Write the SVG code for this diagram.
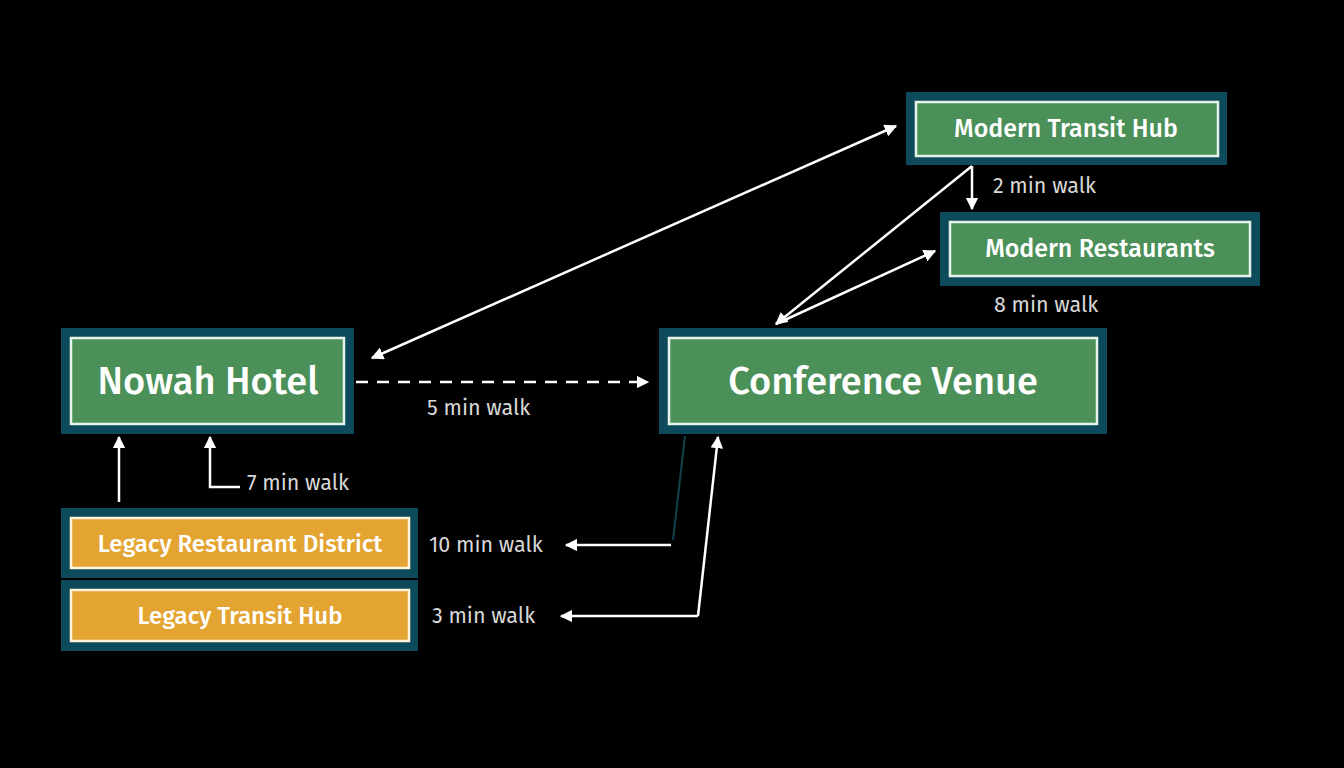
<svg xmlns="http://www.w3.org/2000/svg" width="1344" height="768" viewBox="0 0 1344 768">
<defs>
<marker id="ah" viewBox="0 0 10 10" refX="9" refY="5" markerWidth="5" markerHeight="5" orient="auto-start-reverse"><path d="M0,0 L10,5 L0,10 z" fill="#fff"/></marker>
<style>
.outer{fill:#0d4a5c}
.g{fill:#4a9058;stroke:#e8f4ea;stroke-width:2.5}
.o{fill:#e3a432;stroke:#fff3dc;stroke-width:2.5}
text{font-family:"Fira Sans","Noto Sans","Liberation Sans",sans-serif;fill:#fff;text-anchor:middle;dominant-baseline:central;font-weight:500}
.lbl{fill:#d8d8d8;font-size:21.5px;text-anchor:start;font-weight:400}
.c{stroke:#fff;stroke-width:2.5;fill:none}
</style>
</defs>
<rect width="1344" height="768" fill="#000"/>
<g id="connectors">
<path class="c" d="M356,382 H648" stroke-dasharray="12,9" marker-end="url(#ah)"/>
<path class="c" d="M372,358 L896,126" marker-start="url(#ah)" marker-end="url(#ah)"/>
<path class="c" d="M972,166 V209" marker-end="url(#ah)"/>
<path class="c" d="M972,166 L776,324" marker-end="url(#ah)"/>
<path class="c" d="M776,324 L935,251" marker-end="url(#ah)"/>
<path class="c" d="M119,502 V437" marker-end="url(#ah)"/>
<path class="c" d="M240,487 H210 V437" marker-end="url(#ah)"/>
<path d="M685,436 L673,540" stroke="#12424e" stroke-width="2" fill="none"/>
<path class="c" d="M671,545 H566" marker-end="url(#ah)"/>
<path class="c" d="M698,616 L718,437" marker-end="url(#ah)"/>
<path class="c" d="M698,616 H561" marker-end="url(#ah)"/>
</g>
<g id="nowah"><rect class="outer" x="61" y="328" width="293" height="106"/><rect class="g" x="71" y="338" width="273" height="86"/><text x="208" y="381" font-size="38">Nowah Hotel</text></g>
<g id="venue"><rect class="outer" x="659" y="328" width="448" height="106"/><rect class="g" x="669" y="338" width="428" height="86"/><text x="883" y="381" font-size="38">Conference Venue</text></g>
<g id="mth"><rect class="outer" x="906" y="92" width="321" height="73"/><rect class="g" x="916" y="102" width="302" height="54"/><text x="1066" y="129" font-size="25">Modern Transit Hub</text></g>
<g id="mr"><rect class="outer" x="940" y="212" width="320" height="74"/><rect class="g" x="950" y="222" width="300" height="54"/><text x="1100" y="249" font-size="25">Modern Restaurants</text></g>
<g id="lrd"><rect class="outer" x="61" y="508" width="357" height="70"/><rect class="o" x="71" y="518" width="338" height="50"/><text x="240" y="544" font-size="24">Legacy Restaurant District</text></g>
<g id="lth"><rect class="outer" x="61" y="580" width="357" height="71"/><rect class="o" x="71" y="590" width="338" height="51"/><text x="240" y="616" font-size="24">Legacy Transit Hub</text></g>
<g id="labels">
<text class="lbl" x="427" y="408">5 min walk</text>
<text class="lbl" x="247" y="483">7 min walk</text>
<text class="lbl" x="429" y="545">10 min walk</text>
<text class="lbl" x="432" y="616">3 min walk</text>
<text class="lbl" x="993" y="186">2 min walk</text>
<text class="lbl" x="994" y="305">8 min walk</text>
</g>
</svg>
